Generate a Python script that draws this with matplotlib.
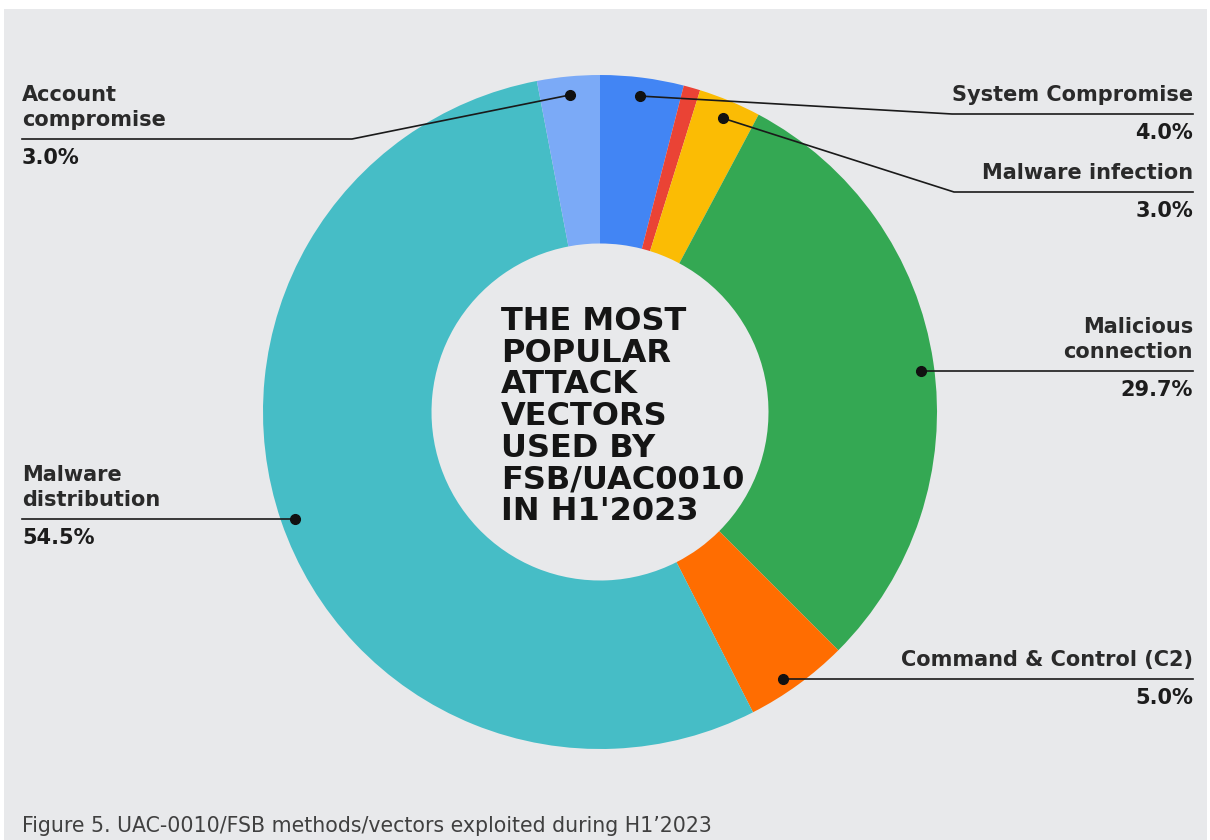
import numpy as np
import matplotlib.pyplot as plt
from matplotlib.patches import Rectangle

# slices, clockwise from 12 o'clock
labels = ['System Compromise', '', 'Malware infection', 'Malicious\nconnection',
          'Command & Control (C2)', 'Malware\ndistribution', 'Account\ncompromise']
values = [4.0, 0.8, 3.0, 29.7, 5.0, 54.5, 3.0]
colors = ['#4285f4', '#ea4335', '#fbbc04', '#34a853', '#ff6d01', '#46bdc6', '#7baaf7']

# label anchor (pixels): side, elbow x, line y
anchors = {
    0: ('right', 952, 114),
    2: ('right', 954, 192),
    3: ('right', None, 371),
    4: ('right', None, 679),
    5: ('left', None, 519),
    6: ('left', 352, 139),
}

W, H = 1210, 840
BG = '#e8e9eb'
TXT = '#1c1c1c'
FONT = 'DejaVu Sans'

fig = plt.figure(figsize=(W / 100, H / 100), dpi=100, facecolor='white')
fig.patches.append(Rectangle((4 / W, 0), (1207 - 4) / W, (H - 9) / H,
                             transform=fig.transFigure, facecolor=BG,
                             edgecolor='none', zorder=-10))

cx, cy, R = 600, 412, 337
ax = fig.add_axes([(cx - R) / W, (H - cy - R) / H, 2 * R / W, 2 * R / H])
ax.set_facecolor('none')
wedges, _ = ax.pie(values, colors=colors, startangle=90, counterclock=False,
                   wedgeprops=dict(width=0.5, edgecolor='none'))
ax.set_xlim(-1, 1)
ax.set_ylim(-1, 1)
ax.axis('off')

# overlay axes in pixel coordinates for leader lines and labels
ov = fig.add_axes([0, 0, 1, 1])
ov.set_xlim(0, W)
ov.set_ylim(H, 0)
ov.axis('off')
ov.set_facecolor('none')

for i, w in enumerate(wedges):
    if i not in anchors:
        continue
    side, ex, ly = anchors[i]
    if ex:
        ang = np.deg2rad((w.theta1 + w.theta2) / 2)
        dx = cx + 0.945 * R * np.cos(ang)
        dy = cy - 0.945 * R * np.sin(ang)
    else:
        # dot sits where the straight leader meets the ring
        rr = 0.96 * R
        off = np.sqrt(rr ** 2 - (ly - cy) ** 2)
        dx = cx + off if side == 'right' else cx - off
        dy = ly
    ov.plot(dx, dy, 'o', color='#111111', markersize=7, zorder=5)
    if side == 'right':
        xs = [dx, ex, 1193] if ex else [dx, 1193]
        ys = [dy, ly, ly] if ex else [ly, ly]
        tx, ha = 1193, 'right'
    else:
        xs = [dx, ex, 22] if ex else [dx, 22]
        ys = [dy, ly, ly] if ex else [ly, ly]
        tx, ha = 22, 'left'
    ov.plot(xs, ys, color='#1a1a1a', lw=1.2, zorder=4)
    ov.text(tx, ly - 9, labels[i], ha=ha, va='bottom', fontsize=15,
            fontweight='bold', family=FONT, color='#2a2a2a', linespacing=1.3)
    ov.text(tx, ly + 9, f'{values[i]:.1f}%', ha=ha, va='top', fontsize=15,
            fontweight='bold', family=FONT, color=TXT)

ov.text(501, 306, "THE MOST\nPOPULAR\nATTACK\nVECTORS\nUSED BY\nFSB/UAC0010\nIN H1'2023",
        ha='left', va='top', fontsize=23, fontweight='bold', family=FONT,
        color='#151515', linespacing=1.03)

ov.text(22, 826, 'Figure 5. UAC-0010/FSB methods/vectors exploited during H1\u20192023',
        ha='left', va='center', fontsize=14.8, family=FONT, color='#404040')

fig.savefig('out.png', dpi=100, facecolor='white')
